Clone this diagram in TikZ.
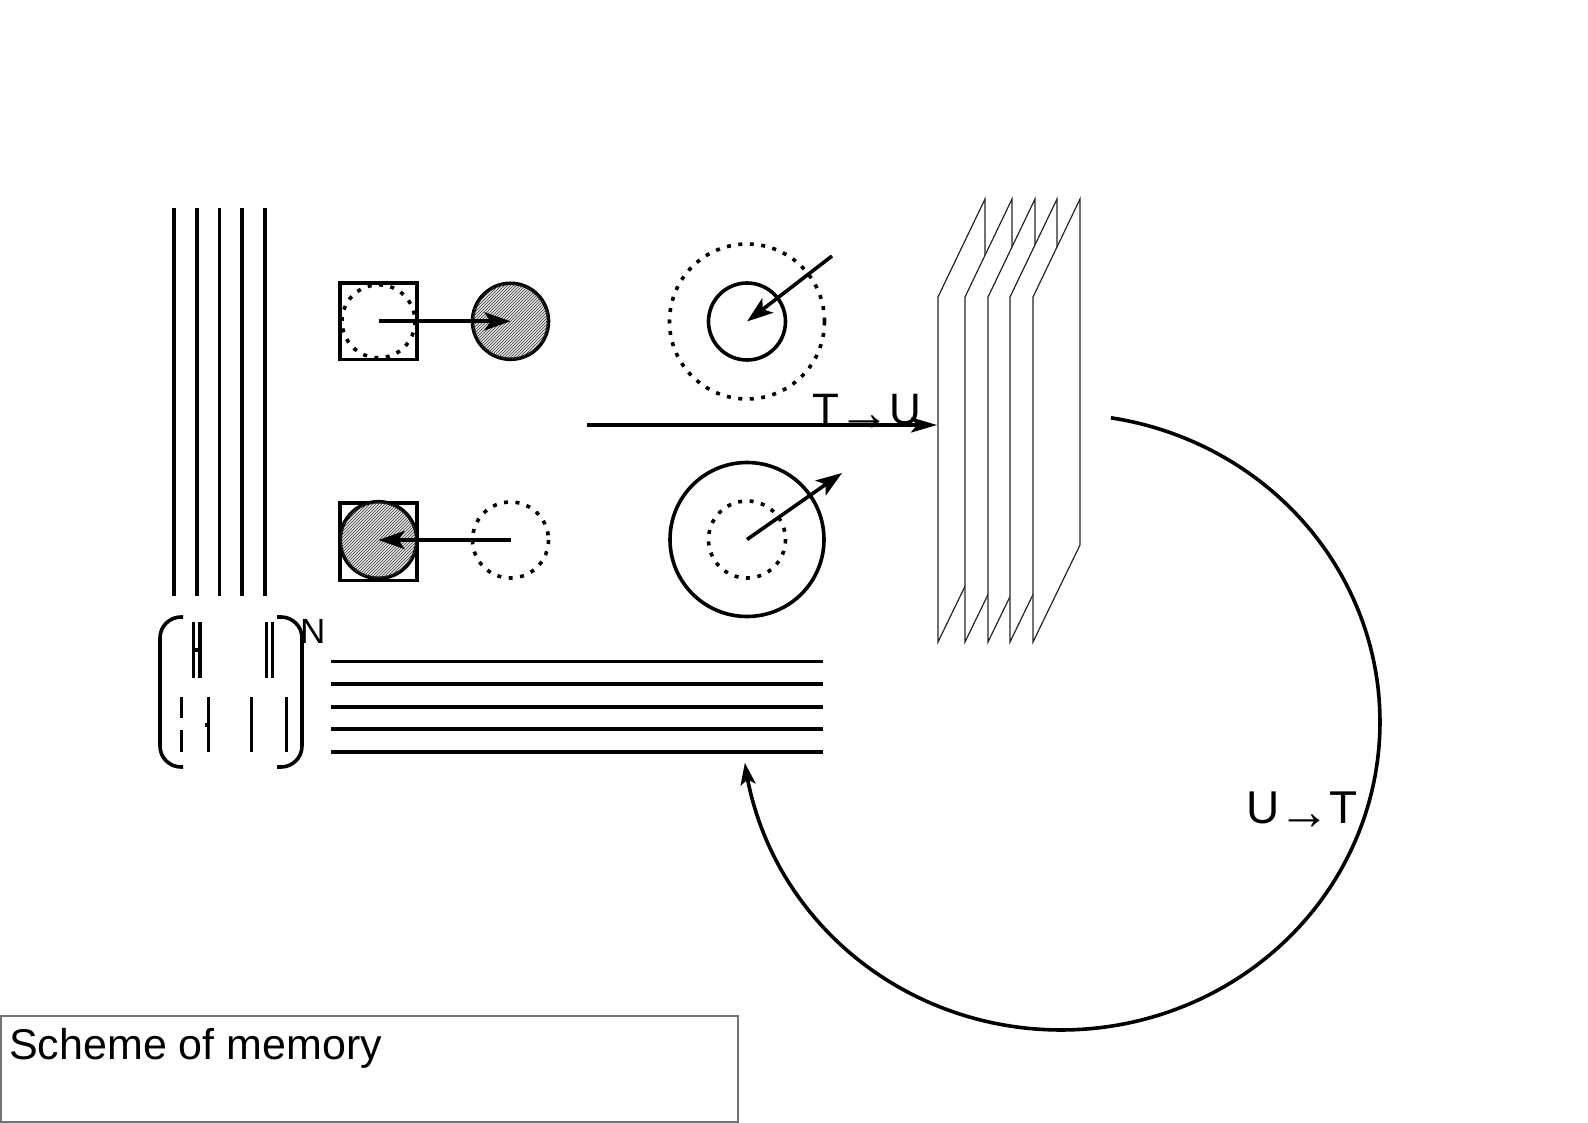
\documentclass[tikz,border=0pt]{standalone}
\usepackage{fontspec}
\setmainfont{Liberation Sans}
\usetikzlibrary{arrows.meta,patterns}
\newcommand{\mysmallarrow}{\makebox[50pt][c]{\raisebox{-6pt}{\fontsize{52}{52}\selectfont →}}}
\begin{document}
\begin{tikzpicture}[x=1pt,y=-1pt,
  mline/.style={line width=3.6pt},
  dotline/.style={line width=3.6pt,dash pattern=on 4pt off 7.5pt},
  planebox/.style={draw=black!85,line width=1.2pt,fill=white},
  arrowline/.style={line width=3.6pt,-{Stealth[length=26pt,width=18pt,inset=6pt]}},
  hatchfill/.style={fill=gray!22,postaction={pattern=north east lines,pattern color=black!75}},
  bigtext/.style={anchor=base west,inner sep=0pt,font=\fontsize{44}{44}\selectfont}
]
\useasboundingbox (0,0) rectangle (1588,1123);

% vertical lines (top left)
\foreach \x in {174,197,219.5,242,265}{
  \draw[mline] (\x,208) -- (\x,595.5);
}

% horizontal lines
\foreach \y in {661.5,683.7,706.8,729,752}{
  \draw[mline] (331,\y) -- (822.5,\y);
}

% parentheses
\draw[mline,rounded corners=21pt] (183,617) -- (160,617) -- (160,767) -- (183,767);
\draw[mline,rounded corners=21pt] (277,617) -- (302,617) -- (302,767) -- (277,767);
\node[anchor=base west,inner sep=0pt,font=\fontsize{35}{35}\selectfont] (nlabel) at (300,643) {N};

% inside of the parentheses
\draw[line width=3.3pt] (193.3,622) -- (193.3,678);
\draw[line width=3.3pt] (200,622) -- (200,678);
\draw[line width=3.3pt] (191.5,650) -- (200,650);
\draw[line width=3.3pt] (266.7,622) -- (266.7,678);
\draw[line width=3.3pt] (272.3,622) -- (272.3,678);
\draw[line width=3.3pt] (181.7,697) -- (181.7,718);
\draw[line width=3.3pt] (181.7,730) -- (181.7,752);
\draw[line width=3.3pt] (208.3,697) -- (208.3,752);
\draw[line width=3.3pt] (204.5,725) -- (208.3,725);
\draw[line width=3.3pt] (251.7,697) -- (251.7,752);
\draw[line width=3.3pt] (286.7,697) -- (286.7,752);

% top square with dotted circle, hatched circle
\coordinate (sq1) at (378.5,321.3);
\coordinate (hc1) at (510.5,321.3);
\draw[mline] (340,283) rectangle (417,359.5);
\draw[dotline] (sq1) circle[radius=36.5];
\draw[mline,hatchfill] (hc1) circle[radius=38];
\draw[arrowline] (sq1) -- (hc1);

% bottom square with hatched circle, dotted circle
\coordinate (sq2) at (378.5,540);
\coordinate (dc2) at (510.5,540);
\draw[mline] (340,503) rectangle (417,580.5);
\draw[mline,hatchfill] (sq2) circle[radius=38.3];
\draw[dotline] (dc2) circle[radius=38];
\draw[arrowline] (dc2) -- (sq2);

% top concentric circles
\coordinate (cc1) at (747,321.5);
\coordinate (cc1out) at (832,256);
\draw[dotline] (cc1) circle[radius=77.5];
\draw[mline] (cc1) circle[radius=38.5];
\draw[arrowline] (cc1out) -- (cc1);

% bottom concentric circles
\coordinate (cc2) at (747,539.5);
\coordinate (cc2out) at (842,473);
\draw[mline] (cc2) circle[radius=77];
\draw[dotline] (cc2) circle[radius=38.5];
\draw[arrowline] (cc2) -- (cc2out);

% planes
\foreach \l in {938,965,988,1010,1033}{
  \draw[planebox] (\l,297) -- (\l+47,199) -- (\l+47,545) -- (\l,642) -- cycle;
}

% T -> U arrow
\coordinate (tustart) at (587,425);
\coordinate (tuend) at (937,425);
\draw[line width=3.6pt,-{Stealth[length=26pt,width=15pt,inset=6pt]}] (tustart) -- (tuend);
\node[bigtext] (tulabel) at (812,424) {T\mysmallarrow U};

% big arc U -> T
\coordinate (arcstart) at (1111,416);
\coordinate (arcend) at (745,763);
\draw[line width=3.6pt,-{Stealth[length=22pt,width=15pt,inset=5pt]}] plot[domain=-81:172.4,samples=160] ({1061+319*cos(\x)},{722+308*sin(\x)});
\node[bigtext,font=\fontsize{46}{46}\selectfont] (utlabel) at (1246.5,823) {U\mysmallarrow T};

% caption box
\draw[draw=black!55,line width=1.5pt] (0.75,1016) rectangle (738,1122);
\node[anchor=base west,inner sep=0pt,font=\fontsize{43}{43}\selectfont] (caption) at (9,1059) {Scheme of memory};
\end{tikzpicture}
\end{document}
